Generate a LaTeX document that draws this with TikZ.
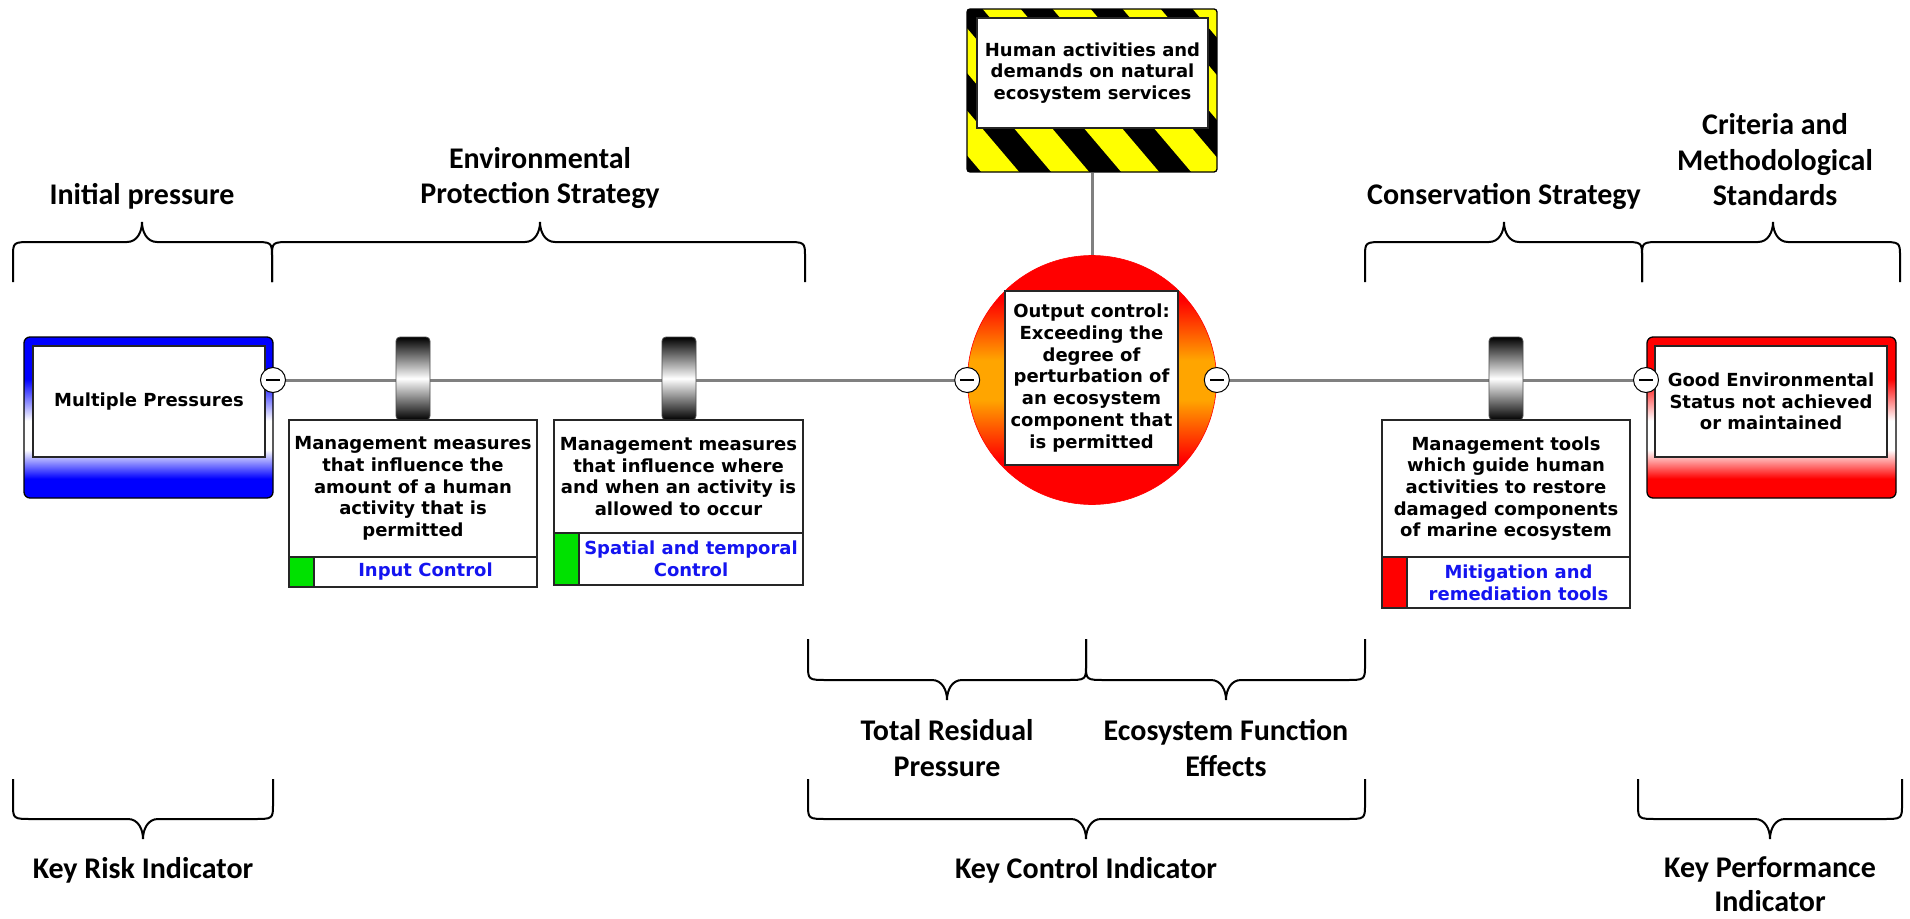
\documentclass[tikz,border=0pt]{standalone}
\usepackage{fontspec}
\newfontfamily\boxfont{DejaVu Sans}
\newfontfamily\lblfont{Carlito}
\usetikzlibrary{backgrounds}

\definecolor{wiregray}{RGB}{128,128,128}
\definecolor{ctrlblue}{RGB}{20,20,240}
\definecolor{ctrlgreen}{RGB}{0,225,0}
\definecolor{hazyellow}{RGB}{255,255,0}
\definecolor{evorange}{RGB}{255,165,0}
\definecolor{casered}{RGB}{255,0,0}
\definecolor{caseblue}{RGB}{0,0,255}

% frames of the threat and consequence boxes, and the top event disc
\pgfdeclareverticalshading{bluecase}{100bp}{color(0bp)=(caseblue); color(31bp)=(caseblue); color(40bp)=(white); color(49bp)=(white); color(62bp)=(caseblue); color(100bp)=(caseblue)}
\pgfdeclareverticalshading{redcase}{100bp}{color(0bp)=(casered); color(31bp)=(casered); color(40bp)=(white); color(49bp)=(white); color(62bp)=(casered); color(100bp)=(casered)}
\pgfdeclareverticalshading{topevent}{100bp}{color(0bp)=(casered); color(34bp)=(casered); color(46bp)=(evorange); color(54bp)=(evorange); color(66bp)=(casered); color(100bp)=(casered)}

% curly span: left x, tip x, right x, leg end y, corner y, horizontal y, tip y
\newcommand{\spanbrace}[7]{%
  \draw[bracepen] (#1,#4) -- (#1,#5) .. controls (#1,#6) .. ({#1+20},#6)
    -- ({#2-15},#6) .. controls ({#2-5},#6) and (#2,{(#6+#7)/2}) .. (#2,#7)
    .. controls (#2,{(#6+#7)/2}) and ({#2+5},#6) .. ({#2+15},#6)
    -- ({#3-20},#6) .. controls (#3,#6) .. (#3,#5) -- (#3,#4);}

\begin{document}
\begin{tikzpicture}[x=1pt,y=-1pt,
  wire/.style={draw=wiregray, line width=3pt},
  bracepen/.style={draw=black, line width=2pt},
  textbox/.style={draw=black!85, line width=1.3pt, fill=white, inner sep=0pt, align=center,
    font={\boxfont\bfseries\fontsize{18}{21.7}\selectfont}},
  labbox/.style={textbox, text=ctrlblue},
  sqbox/.style={draw=black!85, line width=1.3pt, inner sep=0pt},
  casebox/.style={draw=black, line width=1.3pt, rounded corners=6pt, inner sep=0pt,
    minimum width=249pt, minimum height=161pt, shade},
  barrierbar/.style={draw=black!70, line width=0.8pt, rounded corners=4pt, inner sep=0pt,
    minimum width=34pt, minimum height=83pt, top color=black, bottom color=black, middle color=white},
  minusdot/.style={circle, draw=black, line width=1pt, fill=white, minimum size=25pt, inner sep=0pt,
    path picture={\draw[line width=1.6pt] ([xshift=-7pt]path picture bounding box.center)
      -- ([xshift=7pt]path picture bounding box.center);}},
  lbl/.style={inner sep=0pt, align=center, font={\lblfont\bfseries\fontsize{30}{35.5}\selectfont}}
]
\useasboundingbox (0,0) rectangle (1910,918);

% hazard sign with yellow and black stripes
\begin{scope}
  \clip[rounded corners=3pt] (967,9) rectangle (1217,172);
  \fill[black] (967,9) rectangle (1217,172);
  \foreach \k in {-3,...,4}
    \fill[hazyellow] ({975+70*\k},0) -- ({1013+70*\k},0) -- ({1166+70*\k},180) -- ({1128+70*\k},180) -- cycle;
\end{scope}
\node[draw=black, line width=1.3pt, rounded corners=3pt, minimum width=250pt, minimum height=163pt, inner sep=0pt] (hazard) at (1092,90.5) {};
\node[textbox, minimum width=231pt, minimum height=110pt] (hazardtxt) at (1092.5,73) {Human activities and\\demands on natural\\ecosystem services};

% threat
\node[casebox, shading=bluecase] (mpcase) at (148.5,417.5) {};
\node[textbox, minimum width=232pt, minimum height=111pt] (mp) at (149,401.5) {Multiple Pressures};

% consequence
\node[casebox, shading=redcase] (gescase) at (1771.5,417.5) {};
\node[textbox, minimum width=232pt, minimum height=111pt] (ges) at (1771,401.5) {Good Environmental\\Status not achieved\\or maintained};

% top event
\node[circle, shade, shading=topevent, draw=casered, line width=0.6pt, minimum size=249pt, inner sep=0pt] (top) at (1092,380) {};
\node[textbox, minimum width=173pt, minimum height=174pt] (toptxt) at (1091.5,378) {Output control:\\Exceeding the\\degree of\\perturbation of\\an ecosystem\\component that\\is permitted};

% barriers
\node[barrierbar] (b1) at (413,378.5) {};
\node[barrierbar] (b2) at (679,378.5) {};
\node[barrierbar] (b3) at (1506,378.5) {};

% control descriptions
\node[textbox, minimum width=248pt, minimum height=137pt] (c1) at (413,488.5) {Management measures\\that influence the\\amount of a human\\activity that is\\permitted};
\node[sqbox, fill=ctrlgreen, minimum width=25pt, minimum height=30pt] (c1sq) at (301.5,572) {};
\node[labbox, minimum width=223pt, minimum height=30pt] (c1lab) at (425.5,572) {Input Control};

\node[textbox, minimum width=249pt, minimum height=113pt] (c2) at (678.5,476.5) {Management measures\\that influence where\\and when an activity is\\allowed to occur};
\node[sqbox, fill=ctrlgreen, minimum width=25pt, minimum height=52pt] (c2sq) at (566.5,559) {};
\node[labbox, minimum width=224pt, minimum height=52pt] (c2lab) at (691,559) {Spatial and temporal\\Control};

\node[textbox, minimum width=248pt, minimum height=137pt] (c3) at (1506,488.5) {Management tools\\which guide human\\activities to restore\\damaged components\\of marine ecosystem};
\node[sqbox, fill=casered, minimum width=25pt, minimum height=51pt] (c3sq) at (1394.5,582.5) {};
\node[labbox, minimum width=223pt, minimum height=51pt] (c3lab) at (1518.5,582.5) {Mitigation and\\remediation tools};

% junction markers
\node[minusdot] (m1) at (273,380) {};
\node[minusdot] (m2) at (top.west) {};
\node[minusdot] (m3) at (top.east) {};
\node[minusdot] (m4) at (1646,380) {};

% connectors behind the barriers
\begin{pgfonlayer}{background}
  \fill[white] (0,0) rectangle (1910,918);
  \draw[wire] (m1.center) -- (m2.center);
  \draw[wire] (m3.center) -- (m4.center);
  \draw[wire] (hazard.south) -- (top.north);
\end{pgfonlayer}

% upper spans
\spanbrace{13}{142}{272}{282}{257}{242}{222}
\spanbrace{272}{540}{805}{282}{257}{242}{222}
\spanbrace{1365}{1504}{1642}{282}{257}{242}{222}
\spanbrace{1642}{1773}{1900}{282}{257}{242}{222}
\node[lbl] (lInit) at (142,196) {Initial pressure};
\node[lbl] (lEnv) at (540,178) {Environmental\\Protection Strategy};
\node[lbl] (lCons) at (1504,196) {Conservation Strategy};
\node[lbl] (lCrit) at (1775,160) {Criteria and\\Methodological\\Standards};

% lower spans
\spanbrace{808}{947}{1086}{639}{665}{680}{700}
\spanbrace{1086}{1226}{1365}{639}{665}{680}{700}
\node[lbl] (lTRP) at (947,748) {Total Residual\\Pressure};
\node[lbl] (lEFE) at (1226,748) {Ecosystem Function\\Effects};

\spanbrace{13}{143}{273}{779}{804}{819}{839}
\spanbrace{808}{1086}{1365}{779}{804}{819}{839}
\spanbrace{1638}{1770}{1902}{779}{804}{819}{839}
\node[lbl] (lKRI) at (143,870) {Key Risk Indicator};
\node[lbl] (lKCI) at (1086,870) {Key Control Indicator};
\node[lbl, font={\lblfont\bfseries\fontsize{30}{34}\selectfont}] (lKPI) at (1770,884) {Key Performance\\Indicator};
\end{tikzpicture}
\end{document}
